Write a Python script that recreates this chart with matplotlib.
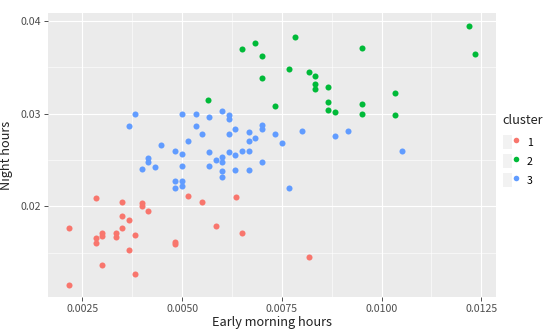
import numpy as np
import matplotlib
matplotlib.use("Agg")
import matplotlib.pyplot as plt
from matplotlib.lines import Line2D
from matplotlib.patches import Patch
from matplotlib.legend_handler import HandlerTuple

plt.rcParams['font.family'] = ['Noto Sans CJK KR', 'DejaVu Sans']

# cluster 1 (red)
c1_x = [0.00217, 0.00217, 0.00284, 0.00284, 0.00284, 0.00300, 0.00300, 0.00300,
        0.00334, 0.00334, 0.00349, 0.00349, 0.00349, 0.00366, 0.00366, 0.00383,
        0.00383, 0.00399, 0.00399, 0.00415, 0.00483, 0.00483, 0.00516, 0.00551,
        0.00584, 0.00634, 0.00651, 0.00818]
c1_y = [0.01772, 0.01149, 0.02093, 0.01655, 0.01610, 0.01710, 0.01680, 0.01371,
        0.01710, 0.01669, 0.02050, 0.01892, 0.01770, 0.01849, 0.01526, 0.01688,
        0.01268, 0.02036, 0.02006, 0.01952, 0.01615, 0.01590, 0.02114, 0.02052,
        0.01790, 0.02097, 0.01712, 0.01450]

# cluster 2 (green)
c2_x = [0.00566, 0.00650, 0.00683, 0.00700, 0.00700, 0.00733, 0.00767, 0.00784,
        0.00817, 0.00833, 0.00833, 0.00833, 0.00866, 0.00866, 0.00866, 0.00883,
        0.00951, 0.00951, 0.00951, 0.01034, 0.01034, 0.01218, 0.01235]
c2_y = [0.03143, 0.03700, 0.03761, 0.03623, 0.03379, 0.03081, 0.03480, 0.03828,
        0.03447, 0.03404, 0.03318, 0.03261, 0.03282, 0.03122, 0.03038, 0.03019,
        0.03702, 0.03099, 0.02998, 0.03224, 0.02984, 0.03946, 0.03641]

# cluster 3 (blue)
c3_x = [0.00366, 0.00383, 0.00399, 0.00415, 0.00415, 0.00432, 0.00448, 0.00482,
        0.00482, 0.00482, 0.00499, 0.00499, 0.00499, 0.00499, 0.00499, 0.00516,
        0.00534, 0.00534, 0.00551, 0.00567, 0.00567, 0.00567, 0.00584, 0.00600,
        0.00600, 0.00600, 0.00600, 0.00600, 0.00617, 0.00617, 0.00617, 0.00617,
        0.00633, 0.00633, 0.00633, 0.00650, 0.00667, 0.00667, 0.00667, 0.00667,
        0.00683, 0.00700, 0.00700, 0.00700, 0.00733, 0.00750, 0.00767, 0.00801,
        0.00883, 0.00916, 0.01051]
c3_y = [0.02862, 0.02998, 0.02399, 0.02524, 0.02475, 0.02424, 0.02660, 0.02601,
        0.02278, 0.02197, 0.02998, 0.02560, 0.02438, 0.02278, 0.02216, 0.02701,
        0.02998, 0.02862, 0.02779, 0.02966, 0.02582, 0.02438, 0.02499, 0.03024,
        0.02537, 0.02475, 0.02377, 0.02316, 0.02984, 0.02944, 0.02776, 0.02582,
        0.02836, 0.02558, 0.02397, 0.02601, 0.02801, 0.02701, 0.02601, 0.02397,
        0.02739, 0.02881, 0.02836, 0.02475, 0.02776, 0.02684, 0.02197, 0.02817,
        0.02761, 0.02817, 0.02596]

clusters = ['1', '2', '3']
colors = ['#F8766D', '#00BA38', '#619CFF']
xticks = [0.0025, 0.0050, 0.0075, 0.0100, 0.0125]
xtick_labels = ['0.0025', '0.0050', '0.0075', '0.0100', '0.0125']
yticks = [0.02, 0.03, 0.04]
ytick_labels = ['0.02', '0.03', '0.04']

fig = plt.figure(figsize=(5.5, 3.36), dpi=100)
ax = fig.add_axes([0.0873, 0.116, 0.8137, 0.846])
ax.set_facecolor('#EBEBEB')

data = [(c1_x, c1_y), (c2_x, c2_y), (c3_x, c3_y)]
for (xs, ys), col in zip(data, colors):
    ax.scatter(xs, ys, s=19, color=col, linewidths=0, zorder=3)

ax.set_xlim(0.00164, 0.012856)
ax.set_ylim(0.01023, 0.04086)

# grid like ggplot
ax.set_xticks(xticks)
ax.set_xticklabels(xtick_labels)
ax.set_yticks(yticks)
ax.set_yticklabels(ytick_labels)
ax.set_xticks([0.00375, 0.00625, 0.00875, 0.01125], minor=True)
ax.set_yticks([0.015, 0.025, 0.035], minor=True)
ax.grid(True, which='major', color='white', linewidth=0.8, zorder=0)
ax.grid(True, which='minor', color='white', linewidth=0.4, zorder=0)
ax.set_axisbelow(True)
for sp in ax.spines.values():
    sp.set_visible(False)
ax.tick_params(which='major', length=2.7, width=0.6, color='#333333',
               labelsize=7.6, labelcolor='#4D4D4D', pad=2)
ax.tick_params(which='minor', length=0)

ax.set_xlabel('Early morning hours', fontsize=9.2, color='#222222', labelpad=2)
ax.set_ylabel('Night hours', fontsize=9.2, color='#222222', labelpad=6)

# legend title drawn separately, keys with grey boxes
fig.text(0.913, 0.642, 'cluster', fontsize=9.2, color='#222222',
         ha='left', va='center')
handles = []
for col in colors:
    handles.append((Patch(facecolor='#F2F2F2', edgecolor='none'),
                    Line2D([], [], marker='o', linestyle='none', markersize=4.0,
                           markerfacecolor=col, markeredgewidth=0)))
leg = fig.legend(handles, clusters, loc='upper left',
                 bbox_to_anchor=(0.914, 0.598), frameon=False,
                 handler_map={tuple: HandlerTuple(ndivide=None, pad=0)},
                 handlelength=1.7, handleheight=1.7, handletextpad=0.6,
                 labelspacing=0.45, fontsize=7.6,
                 borderaxespad=0, borderpad=0)

fig.savefig('out.png', dpi=100)
